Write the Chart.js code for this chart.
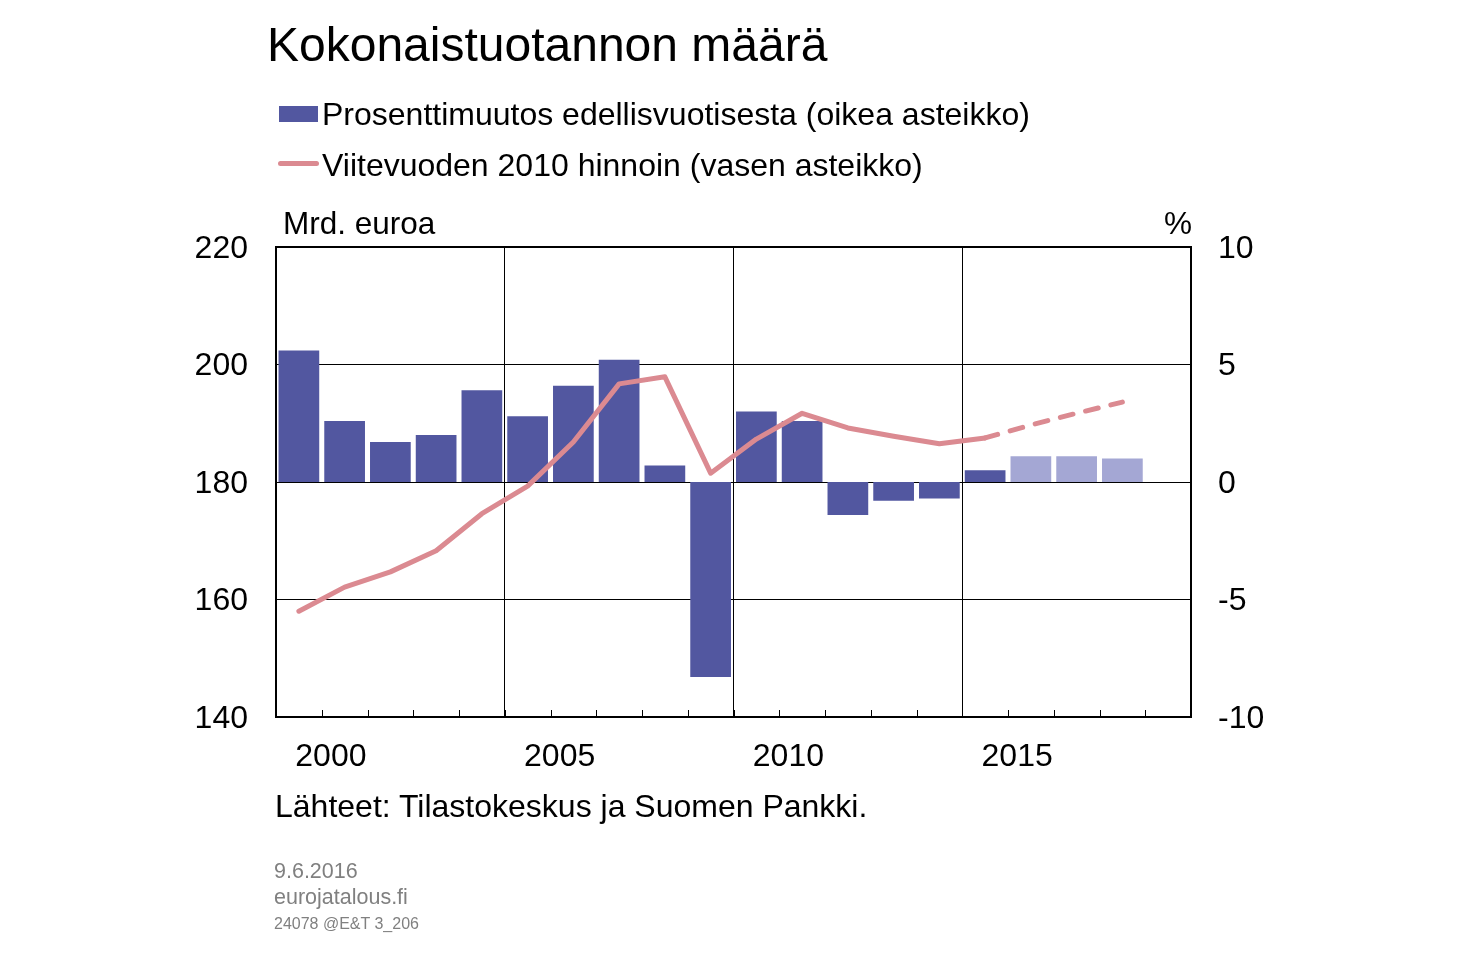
<!DOCTYPE html>
<html>
<head>
<meta charset="utf-8">
<script src="https://cdn.jsdelivr.net/npm/chart.js@4.4.1/dist/chart.umd.min.js"></script>
<style>
  html, body { margin: 0; padding: 0; background: #fff; }
  body { width: 1462px; height: 958px; position: relative; overflow: hidden;
         font-family: "Liberation Sans", Arial, sans-serif; color: #000; }
  #wrap { position: absolute; left: 0; top: 0; width: 1462px; height: 958px; }
  .t { position: absolute; white-space: nowrap; line-height: 1; }
  #title { left: 267px; top: 21px; font-size: 48px; }
  .leg { font-size: 32px; left: 322px; }
  #leg1 { top: 98px; }
  #leg2 { top: 149px; }
  #box1 { position: absolute; left: 279px; top: 106px; width: 39px; height: 16px; background: #5257A0; }
  #line1 { position: absolute; left: 278px; top: 161px; width: 41px; height: 5px; border-radius: 3px; background: #DB8A91; }
  #unitL { left: 283px; top: 208px; font-size: 31.5px; }
  #unitR { right: 270px; top: 208px; font-size: 31.5px; }
  #src { left: 275px; top: 790px; font-size: 32px; }
  .foot { color: #808080; left: 274px; }
  #f1 { top: 861px; font-size: 21.5px; }
  #f2 { top: 887px; font-size: 21.5px; }
  #f3 { top: 916px; font-size: 16px; }
</style>
</head>
<body>
<div id="wrap"><canvas id="c" width="1462" height="958"></canvas></div>
<div class="t" id="title">Kokonaistuotannon määrä</div>
<div id="box1"></div>
<div class="t leg" id="leg1">Prosenttimuutos edellisvuotisesta (oikea asteikko)</div>
<div id="line1"></div>
<div class="t leg" id="leg2">Viitevuoden 2010 hinnoin (vasen asteikko)</div>
<div class="t" id="unitL">Mrd. euroa</div>
<div class="t" id="unitR">%</div>
<div class="t" id="src">Lähteet: Tilastokeskus ja Suomen Pankki.</div>
<div class="t foot" id="f1">9.6.2016</div>
<div class="t foot" id="f2">eurojatalous.fi</div>
<div class="t foot" id="f3">24078 @E&amp;T 3_206</div>
<script>
// ---- data ----
const years = ['2000','2001','2002','2003','2004','2005','2006','2007','2008','2009',
               '2010','2011','2012','2013','2014','2015','2016','2017','2018','2019'];
const shownYearLabels = ['2000','2005','2010','2015'];
const growthPct = [5.6, 2.6, 1.7, 2.0, 3.9, 2.8, 4.1, 5.2, 0.7, -8.3,
                   3.0, 2.6, -1.4, -0.8, -0.7, 0.5, 1.1, 1.1, 1.0, null];
const volumeBn = [158.0, 162.1, 164.7, 168.3, 174.6, 179.3, 186.8, 196.7, 197.9, 181.5,
                  187.3, 191.7, 189.2, 187.8, 186.5, 187.5, 189.7, 191.7, 193.6, null];
const forecastFrom = '2016';
const leftTicks = [140, 160, 180, 200, 220];
const rightTicks = [-10, -5, 0, 5, 10];

const DARK = '#5257A0', LIGHT = '#A4A7D4', LINE = '#DB8A91';
const fcIdx = years.indexOf(forecastFrom);
const FONT = { family: '"Liberation Sans", Arial, sans-serif', size: 32 };

const framePlugin = {
  id: 'frame',
  afterDatasetsDraw(chart) {
    const { ctx, chartArea: a, scales } = chart;
    const x = scales.x;
    ctx.save();
    // small inside tick marks at category boundaries
    ctx.strokeStyle = '#000';
    ctx.lineWidth = 1;
    for (let i = 1; i < years.length; i++) {
      const px = Math.round((x.getPixelForValue(i - 1) + x.getPixelForValue(i)) / 2) + 0.5;
      ctx.beginPath();
      ctx.moveTo(px, a.bottom);
      ctx.lineTo(px, a.bottom - 7);
      ctx.stroke();
    }
    // plot frame
    ctx.lineWidth = 2;
    ctx.strokeRect(a.left, a.top, a.right - a.left, a.bottom - a.top);
    ctx.restore();
  }
};

new Chart(document.getElementById('c'), {
  data: {
    labels: years,
    datasets: [
      {
        type: 'line',
        data: volumeBn,
        yAxisID: 'yL',
        borderColor: LINE,
        borderWidth: 5,
        pointRadius: 0,
        tension: 0,
        borderCapStyle: 'round',
        borderJoinStyle: 'round',
        order: 0,
        segment: {
          borderDash: ctx => ctx.p0DataIndex >= fcIdx - 1 ? [13, 13] : undefined
        }
      },
      {
        type: 'bar',
        data: growthPct,
        yAxisID: 'yR',
        backgroundColor: growthPct.map((v, i) => i >= fcIdx ? LIGHT : DARK),
        categoryPercentage: 1,
        barPercentage: 0.89,
        order: 1
      }
    ]
  },
  options: {
    responsive: false,
    animation: false,
    events: [],
    layout: { padding: { top: 247, left: 0, right: 0, bottom: 0 } },
    plugins: { legend: { display: false }, tooltip: { enabled: false }, title: { display: false } },
    scales: {
      x: {
        type: 'category',
        offset: true,
        grid: {
          offset: true,
          drawTicks: false,
          color: c => (c.index % 5 === 0 ? '#000' : 'rgba(0,0,0,0)'),
          lineWidth: 1
        },
        border: { display: false },
        ticks: {
          autoSkip: false,
          maxRotation: 0,
          padding: 21,
          labelOffset: 32,
          color: '#000',
          font: FONT,
          callback: function (v) {
            const l = this.getLabelForValue(v);
            return shownYearLabels.includes(l) ? l : '';
          }
        },
        afterFit: s => { s.height = 958 - 717; }
      },
      yL: {
        position: 'left',
        min: 140, max: 220,
        afterBuildTicks: s => { s.ticks = leftTicks.map(v => ({ value: v })); },
        grid: { color: '#000', lineWidth: 1, drawTicks: false },
        border: { display: false },
        ticks: { padding: 28, labelOffset: 2, color: '#000', font: FONT },
        afterFit: s => { s.width = 276; }
      },
      yR: {
        position: 'right',
        min: -10, max: 10,
        afterBuildTicks: s => { s.ticks = rightTicks.map(v => ({ value: v })); },
        grid: { display: false, drawTicks: false },
        border: { display: false },
        ticks: { padding: 27, labelOffset: 2, color: '#000', font: FONT },
        afterFit: s => { s.width = 1462 - 1191; }
      }
    }
  },
  plugins: [framePlugin]
});
</script>
</body>
</html>
